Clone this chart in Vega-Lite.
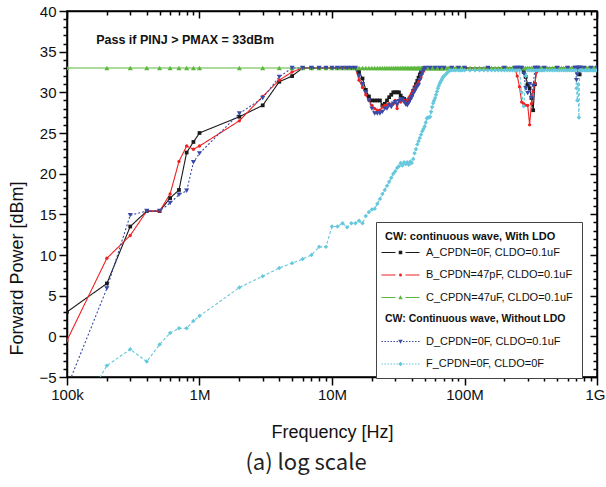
{
  "$schema": "https://vega.github.io/schema/vega-lite/v6.json",
  "width": 530,
  "height": 366,
  "autosize": {"type": "none"},
  "padding": {"left": 67, "top": 11, "right": 9, "bottom": 110},
  "background": "white",
  "config": {
    "view": {"stroke": "black", "strokeWidth": 1.5},
    "font": "Liberation Sans",
    "axis": {"labelFont": "Liberation Sans", "titleFont": "Liberation Sans"}
  },
  "title": {"text": "(a) log scale", "orient": "bottom", "anchor": "middle", "fontSize": 22, "fontWeight": "normal", "font": "Noto Sans CJK KR", "color": "#222222", "offset": 12, "dx": -26},
  "datasets": {
    "w": [
      {"f":100000,"A":3.0,"B":-0.5,"C":33,"D":-6.3,"F":-12},
      {"f":200000,"A":6.5,"B":9.6,"C":33,"D":5.9,"F":-3.6},
      {"f":300000,"A":13.5,"B":12.4,"C":33,"D":14.9,"F":-1.6},
      {"f":400000,"A":15.4,"B":15.4,"C":33,"D":15.4,"F":-3.1},
      {"f":500000,"A":15.4,"B":15.4,"C":33,"D":15.4,"F":-1.0},
      {"f":600000,"A":17.0,"B":17.5,"C":33,"D":16.4,"F":0.4},
      {"f":700000,"A":18.0,"B":21.5,"C":33,"D":17.4,"F":1.0},
      {"f":800000,"A":22.6,"B":23.4,"C":33,"D":17.9,"F":1.0},
      {"f":900000,"A":23.9,"B":23.0,"C":33,"D":21.4,"F":1.9},
      {"f":1000000,"A":25.0,"B":23.4,"C":33,"D":22.5,"F":2.5},
      {"f":2000000,"A":27.0,"B":26.5,"C":33,"D":27.4,"F":6.0},
      {"f":3000000,"A":28.4,"B":29.5,"C":33,"D":29.3,"F":7.4},
      {"f":4000000,"A":31.3,"B":31.5,"C":33,"D":31.9,"F":8.4},
      {"f":5000000,"A":32.0,"B":32.5,"C":33,"D":33,"F":9.0},
      {"f":6000000,"A":33,"B":33,"C":33,"D":33,"F":9.5},
      {"f":7000000,"A":33,"B":33,"C":33,"D":33,"F":10.0},
      {"f":8000000,"A":33,"B":33,"C":33,"D":33,"F":11.0},
      {"f":9000000,"A":33,"B":33,"C":33,"D":33,"F":11.0},
      {"f":10000000,"A":33,"B":33,"C":33,"D":33,"F":13.5},
      {"f":11000000,"A":33,"B":33,"C":33,"D":33,"F":13.5},
      {"f":12000000,"A":33,"B":33,"C":33,"D":33,"F":13.9},
      {"f":13000000,"A":33,"B":33,"C":33,"D":33,"F":13.4},
      {"f":14000000,"A":33,"B":33,"C":33,"D":33,"F":13.9},
      {"f":15000000,"A":33,"B":33,"C":33,"D":33,"F":13.9},
      {"f":16000000,"A":32.5,"B":31.5,"C":33,"D":32.0,"F":14.2},
      {"f":17000000,"A":31.7,"B":30.6,"C":33,"D":31.0,"F":13.9},
      {"f":18000000,"A":30.3,"B":29.7,"C":33,"D":30.0,"F":14.8},
      {"f":19000000,"A":29.5,"B":29.0,"C":33,"D":29.0,"F":15.3},
      {"f":20000000,"A":29.0,"B":28.4,"C":33,"D":28.0,"F":15.6},
      {"f":21000000,"A":29.0,"B":28.0,"C":33,"D":27.4,"F":15.7},
      {"f":22000000,"A":29.0,"B":27.8,"C":33,"D":27.4,"F":16.3},
      {"f":23000000,"A":29.0,"B":27.8,"C":33,"D":27.4,"F":16.9},
      {"f":24000000,"A":28.4,"B":28.2,"C":33,"D":27.6,"F":17.5},
      {"f":25000000,"A":28.6,"B":28.4,"C":33,"D":28.0,"F":18.0},
      {"f":26000000,"A":29.0,"B":28.4,"C":33,"D":28.0,"F":18.5},
      {"f":27000000,"A":29.4,"B":28.6,"C":33,"D":28.4,"F":19.0},
      {"f":28000000,"A":29.7,"B":28.5,"C":33,"D":28.2,"F":19.5},
      {"f":29000000,"A":30.0,"B":28.6,"C":33,"D":28.6,"F":20.0},
      {"f":30000000,"A":30.0,"B":29.0,"C":33,"D":28.8,"F":20.3},
      {"f":31000000,"A":30.0,"B":28.0,"C":33,"D":28.5,"F":20.7},
      {"f":32000000,"A":30.0,"B":29.0,"C":33,"D":28.9,"F":20.9},
      {"f":33000000,"A":29.6,"B":28.8,"C":33,"D":29.1,"F":21.3},
      {"f":34000000,"A":29.3,"B":29.0,"C":33,"D":29.1,"F":21.0},
      {"f":35000000,"A":29.2,"B":29.0,"C":33,"D":28.8,"F":21.4},
      {"f":36000000,"A":29.0,"B":28.7,"C":33,"D":28.5,"F":21.2},
      {"f":37000000,"A":28.8,"B":29.0,"C":33,"D":28.4,"F":21.4},
      {"f":38000000,"A":29.0,"B":29.3,"C":33,"D":28.7,"F":21.1},
      {"f":39000000,"A":29.3,"B":29.6,"C":33,"D":29.1,"F":21.5},
      {"f":40000000,"A":29.7,"B":29.9,"C":33,"D":29.4,"F":21.3},
      {"f":41000000,"A":30.2,"B":30.2,"C":33,"D":29.8,"F":21.8},
      {"f":42000000,"A":30.6,"B":30.5,"C":33,"D":30.1,"F":22.5},
      {"f":43000000,"A":31.0,"B":30.8,"C":33,"D":30.4,"F":23.0},
      {"f":44000000,"A":31.4,"B":31.0,"C":33,"D":30.7,"F":23.6},
      {"f":45000000,"A":31.8,"B":31.3,"C":33,"D":30.9,"F":24.0},
      {"f":46000000,"A":32.2,"B":31.6,"C":33,"D":31.5,"F":24.4},
      {"f":47000000,"A":32.5,"B":31.9,"C":33,"D":32.0,"F":24.8},
      {"f":48000000,"A":32.8,"B":32.3,"C":33,"D":32.4,"F":25.2},
      {"f":49000000,"A":33,"B":32.6,"C":33,"D":32.7,"F":25.5},
      {"f":50000000,"A":33,"B":32.9,"C":33,"D":32.9,"F":25.8},
      {"f":51000000,"A":33,"B":33,"C":33,"D":33,"F":26.3},
      {"f":52000000,"C":33,"F":26.8},
      {"f":53000000,"C":33,"F":26.9},
      {"f":54000000,"C":33,"F":26.9},
      {"f":55000000,"A":33,"B":33,"C":33,"D":33,"F":27.0},
      {"f":56000000,"C":33,"F":27.6},
      {"f":57000000,"C":33,"F":28.2},
      {"f":58000000,"C":33,"F":28.7},
      {"f":59000000,"C":33,"F":29.0},
      {"f":60000000,"A":33,"B":33,"C":33,"D":33,"F":29.3},
      {"f":61000000,"C":33,"F":29.7},
      {"f":62000000,"C":33,"F":30.1},
      {"f":63000000,"C":33,"F":30.5},
      {"f":64000000,"C":33,"F":30.8},
      {"f":65000000,"A":33,"B":33,"C":33,"D":33,"F":31.1},
      {"f":66000000,"C":33,"F":31.3},
      {"f":67000000,"C":33,"F":31.5},
      {"f":68000000,"C":33,"F":31.7},
      {"f":69000000,"C":33,"F":31.9},
      {"f":70000000,"A":33,"B":33,"C":33,"D":33,"F":32.0},
      {"f":72000000,"C":33,"F":32.2},
      {"f":74000000,"C":33,"F":32.4},
      {"f":76000000,"C":33,"F":32.6},
      {"f":78000000,"C":33,"F":32.7},
      {"f":80000000,"A":33,"B":33,"C":33,"D":33,"F":32.7},
      {"f":83000000,"C":33,"F":32.7},
      {"f":86000000,"C":33,"F":32.7},
      {"f":90000000,"A":33,"B":33,"C":33,"D":33,"F":32.7},
      {"f":93000000,"C":33,"F":32.7},
      {"f":96000000,"C":33,"F":32.7},
      {"f":100000000,"A":33,"B":33,"C":33,"D":33,"F":32.7},
      {"f":110000000,"C":33,"F":32.7},
      {"f":120000000,"C":33,"F":32.7},
      {"f":130000000,"C":33,"F":32.7},
      {"f":140000000,"C":33,"F":32.7},
      {"f":150000000,"A":33,"B":33,"C":33,"D":33,"F":32.7},
      {"f":160000000,"C":33,"F":32.7},
      {"f":170000000,"C":33,"F":32.7},
      {"f":180000000,"C":33,"F":32.7},
      {"f":190000000,"C":33,"F":32.7},
      {"f":200000000,"A":33,"B":33,"C":33,"D":33,"F":32.7},
      {"f":210000000,"C":33,"F":32.7},
      {"f":220000000,"C":33,"F":32.7},
      {"f":230000000,"C":33,"F":32.7},
      {"f":240000000,"A":33,"B":33,"C":33,"D":33,"F":32.7},
      {"f":250000000,"A":33,"B":32.0,"C":33,"D":33,"F":32.7},
      {"f":260000000,"A":33,"B":30.7,"C":33,"D":33,"F":32.7},
      {"f":270000000,"A":33,"B":28.8,"C":33,"D":33,"F":30.0},
      {"f":280000000,"A":32.5,"B":28.6,"C":33,"D":32.3,"F":28.3},
      {"f":290000000,"A":31.9,"B":28.4,"C":33,"D":30.5,"F":32.0},
      {"f":300000000,"A":31.0,"B":28.4,"C":33,"D":29.9,"F":32.7},
      {"f":310000000,"A":30.5,"B":26.0,"C":33,"D":31.0,"F":32.7},
      {"f":320000000,"A":29.3,"B":28.6,"C":33,"D":29.3,"F":32.7},
      {"f":330000000,"A":27.8,"B":30.1,"C":33,"D":30.8,"F":32.7},
      {"f":340000000,"A":31.0,"B":31.1,"C":33,"D":33,"F":32.7},
      {"f":350000000,"A":33,"B":32.5,"C":33,"D":33,"F":32.7},
      {"f":360000000,"A":33,"B":33,"C":33,"D":33,"F":32.7},
      {"f":370000000,"C":33,"F":32.7},
      {"f":380000000,"C":33,"F":32.7},
      {"f":390000000,"C":33,"F":32.7},
      {"f":400000000,"A":33,"B":33,"C":33,"D":33,"F":32.7},
      {"f":420000000,"C":33,"F":32.7},
      {"f":440000000,"C":33,"F":32.7},
      {"f":460000000,"C":33,"F":32.7},
      {"f":480000000,"C":33,"F":32.7},
      {"f":500000000,"A":33,"B":33,"C":33,"D":33,"F":32.7},
      {"f":520000000,"C":33,"F":32.7},
      {"f":540000000,"C":33,"F":32.7},
      {"f":560000000,"C":33,"F":32.7},
      {"f":580000000,"C":33,"F":32.7},
      {"f":600000000,"A":33,"B":33,"C":33,"D":33,"F":32.7},
      {"f":620000000,"C":33,"F":32.7},
      {"f":640000000,"C":33,"F":32.7},
      {"f":660000000,"C":33,"F":32.7},
      {"f":680000000,"A":33,"B":33,"C":33,"D":33,"F":32.7},
      {"f":690000000,"A":33,"B":33,"C":33,"D":33,"F":32.7},
      {"f":700000000,"A":33,"B":33,"C":33,"D":31.5,"F":30.5},
      {"f":710000000,"A":33,"B":33,"C":33,"D":32.2,"F":29.0},
      {"f":720000000,"A":33,"B":33,"C":33,"D":33,"F":31.0},
      {"f":730000000,"A":33,"B":33,"C":33,"D":33,"F":26.9},
      {"f":740000000,"A":32.2,"B":33,"C":33,"D":33,"F":32.7},
      {"f":750000000,"A":33,"B":33,"C":33,"D":33,"F":32.7},
      {"f":760000000,"C":33,"F":32.7},
      {"f":780000000,"C":33,"F":32.7},
      {"f":800000000,"A":33,"B":33,"C":33,"D":33,"F":32.7},
      {"f":820000000,"C":33,"F":32.7},
      {"f":840000000,"C":33,"F":32.7},
      {"f":860000000,"C":33,"F":32.7},
      {"f":880000000,"C":33,"F":32.7},
      {"f":900000000,"A":33,"B":33,"C":33,"D":33,"F":32.7},
      {"f":920000000,"C":33,"F":32.7},
      {"f":940000000,"C":33,"F":32.7},
      {"f":960000000,"C":33,"F":32.7},
      {"f":980000000,"C":33,"F":32.7},
      {"f":1000000000,"A":33,"B":33,"C":33,"D":33,"F":32.7}
    ]
  },
  "layer": [
    {
      "data": {"name": "w"},
      "transform": [{"fold": ["A", "B", "C", "D", "F"], "as": ["s", "p"]}, {"filter": "datum.p != null"}],
      "mark": {"type": "line", "strokeWidth": 1.1, "clip": true},
      "encoding": {
        "x": {
          "field": "f", "type": "quantitative",
          "scale": {"type": "log", "domain": [100000, 1000000000], "nice": false},
          "axis": {
            "orient": "bottom",
            "values": [100000,200000,300000,400000,500000,600000,700000,800000,900000,1000000,2000000,3000000,4000000,5000000,6000000,7000000,8000000,9000000,10000000,20000000,30000000,40000000,50000000,60000000,70000000,80000000,90000000,100000000,200000000,300000000,400000000,500000000,600000000,700000000,800000000,900000000,1000000000],
            "labelExpr": "datum.value == 100000 ? '100k' : datum.value == 1000000 ? '1M' : datum.value == 10000000 ? '10M' : datum.value == 100000000 ? '100M' : datum.value == 1000000000 ? '1G' : ''",
            "labelFontSize": 15, "labelColor": "#111111", "labelPadding": 2, "labelFlush": false, "labelOverlap": false,
            "labelAlign": {"condition": {"test": "datum.value == 1000000000", "value": "right"}, "value": "center"},
            "labelOffset": {"condition": {"test": "datum.value == 1000000000", "value": 8}, "value": 0},
            "tickColor": "black", "tickWidth": 1.5,
            "tickSize": {"condition": {"test": "indexof([100000,1000000,10000000,100000000,1000000000], datum.value) >= 0", "value": 8}, "value": 4},
            "domainColor": "black", "domainWidth": 1.5, "grid": false,
            "title": "Frequency [Hz]", "titleFontSize": 18, "titleFontWeight": "normal", "titleColor": "#111111",
            "titleY": 55, "titleBaseline": "middle"
          }
        },
        "y": {
          "field": "p", "type": "quantitative",
          "scale": {"domain": [-5, 40], "nice": false, "zero": false},
          "axis": {
            "orient": "left",
            "values": [-5,-4,-3,-2,-1,0,1,2,3,4,5,6,7,8,9,10,11,12,13,14,15,16,17,18,19,20,21,22,23,24,25,26,27,28,29,30,31,32,33,34,35,36,37,38,39,40],
            "labelExpr": "datum.value % 5 === 0 ? datum.label : ''",
            "labelFontSize": 15, "labelColor": "#111111", "labelPadding": 3, "labelOverlap": false,
            "tickColor": "black", "tickWidth": 1.5,
            "tickSize": {"condition": {"test": "datum.value % 5 === 0", "value": 8}, "value": 4},
            "domainColor": "black", "domainWidth": 1.5, "grid": false,
            "title": "Forward Power [dBm]", "titleFontSize": 18, "titleFontWeight": "normal", "titleColor": "#111111",
            "titleX": -50, "titleY": 257, "titleBaseline": "middle"
          }
        },
        "color": {
          "field": "s", "type": "nominal",
          "scale": {"domain": ["A", "B", "C", "H", "D", "F"], "range": ["#1a1a1a", "#ee2222", "#5cb83c", "#ffffff", "#3a4aa8", "#66c8dc"]},
          "legend": {
            "title": "CW: continuous wave, With LDO",
            "orient": "none", "legendX": 309, "legendY": 211,
            "padding": 9, "strokeColor": "#444444", "fillColor": "white", "cornerRadius": 0,
            "titleFontSize": 11, "titleFontWeight": "bold", "titleColor": "#111111", "titlePadding": 5,
            "labelFontSize": 10, "labelColor": "#111111", "labelLimit": 300,
            "symbolSize": 100, "symbolStrokeWidth": 0, "symbolOffset": 10, "labelOffset": 20, "rowPadding": 10.5,
            "labelExpr": "datum.value == 'A' ? 'A_CPDN=0F, CLDO=0.1uF' : datum.value == 'B' ? 'B_CPDN=47pF, CLDO=0.1uF' : datum.value == 'C' ? 'C_CPDN=47uF, CLDO=0.1uF' : datum.value == 'H' ? 'CW: Continuous wave, Without LDO' : datum.value == 'D' ? 'D_CPDN=0F, CLDO=0.1uF' : 'F_CPDN=0F, CLDO=0F'",
            "encode": {
              "symbols": {"update": {
                "shape": {"signal": "datum.value == 'A' ? 'M-3.8,-0.11H-1V0.11H-3.8ZM1,-0.11H3.8V0.11H1ZM-0.35,-0.35H0.35V0.35H-0.35Z' : datum.value == 'B' ? 'M-3.8,-0.11H-1V0.11H-3.8ZM1,-0.11H3.8V0.11H1ZM-0.3,0A0.3,0.3 0 1,0 0.3,0A0.3,0.3 0 1,0 -0.3,0Z' : datum.value == 'C' ? 'M-3.8,-0.11H-1V0.11H-3.8ZM1,-0.11H3.8V0.11H1ZM0,-0.45L0.45,0.35H-0.45Z' : datum.value == 'D' ? 'M-3.8,-0.11h0.3v0.22h-0.3ZM-3.2,-0.11h0.3v0.22h-0.3ZM-2.6,-0.11h0.3v0.22h-0.3ZM-2,-0.11h0.3v0.22h-0.3ZM-1.4,-0.11h0.3v0.22h-0.3ZM-0.8,-0.11h0.3v0.22h-0.3ZM0.5,-0.11h0.3v0.22h-0.3ZM1.1,-0.11h0.3v0.22h-0.3ZM1.7,-0.11h0.3v0.22h-0.3ZM2.3,-0.11h0.3v0.22h-0.3ZM2.9,-0.11h0.3v0.22h-0.3ZM3.5,-0.11h0.3v0.22h-0.3ZM-0.45,-0.35H0.45L0,0.45Z' : datum.value == 'F' ? 'M-3.8,-0.11h0.3v0.22h-0.3ZM-3.2,-0.11h0.3v0.22h-0.3ZM-2.6,-0.11h0.3v0.22h-0.3ZM-2,-0.11h0.3v0.22h-0.3ZM-1.4,-0.11h0.3v0.22h-0.3ZM-0.8,-0.11h0.3v0.22h-0.3ZM0.5,-0.11h0.3v0.22h-0.3ZM1.1,-0.11h0.3v0.22h-0.3ZM1.7,-0.11h0.3v0.22h-0.3ZM2.3,-0.11h0.3v0.22h-0.3ZM2.9,-0.11h0.3v0.22h-0.3ZM3.5,-0.11h0.3v0.22h-0.3ZM0,-0.45L0.45,0L0,0.45L-0.45,0Z' : 'M0,0'"},
                "fill": {"signal": "scale('color', datum.value)"},
                "stroke": {"value": "transparent"},
                "strokeWidth": {"value": 0},
                "fillOpacity": {"value": 1},
                "opacity": {"signal": "datum.value == 'H' ? 0 : 1"}
              }},
              "labels": {"update": {
                "fontWeight": {"signal": "datum.value == 'H' ? 'bold' : 'normal'"},
                "fontSize": {"signal": "datum.value == 'H' ? 10.5 : 11"},
                "dx": {"signal": "datum.value == 'H' ? -41 : 0"}
              }}
            }
          }
        },
        "strokeDash": {
          "field": "s", "type": "nominal",
          "scale": {"domain": ["A", "B", "C", "H", "D", "F"], "range": [[1, 0], [1, 0], [1, 0], [1, 0], [2, 2], [3, 2]]}
        }
      }
    },
    {
      "data": {"name": "w"},
      "transform": [{"fold": ["A", "B", "C", "D", "F"], "as": ["s", "p"]}, {"filter": "datum.p != null"}],
      "layer": [
        {
          "transform": [{"filter": "datum.s == 'A'"}],
          "mark": {"type": "point", "shape": "square", "size": 14, "filled": true, "clip": true, "opacity": 1},
          "encoding": {
            "x": {"field": "f", "type": "quantitative", "axis": null},
            "y": {"field": "p", "type": "quantitative", "axis": null},
            "color": {"field": "s", "type": "nominal", "legend": null}
          }
        },
        {
          "transform": [{"filter": "datum.s == 'B'"}],
          "mark": {"type": "point", "shape": "circle", "size": 11, "filled": true, "clip": true, "opacity": 1},
          "encoding": {
            "x": {"field": "f", "type": "quantitative", "axis": null},
            "y": {"field": "p", "type": "quantitative", "axis": null},
            "color": {"field": "s", "type": "nominal", "legend": null}
          }
        },
        {
          "transform": [{"filter": "datum.s == 'C'"}],
          "mark": {"type": "point", "shape": "triangle-up", "size": 26, "filled": true, "clip": true, "opacity": 1},
          "encoding": {
            "x": {"field": "f", "type": "quantitative", "axis": null},
            "y": {"field": "p", "type": "quantitative", "axis": null},
            "color": {"field": "s", "type": "nominal", "legend": null}
          }
        },
        {
          "transform": [{"filter": "datum.s == 'D'"}],
          "mark": {"type": "point", "shape": "triangle-down", "size": 26, "filled": true, "clip": true, "opacity": 1},
          "encoding": {
            "x": {"field": "f", "type": "quantitative", "axis": null},
            "y": {"field": "p", "type": "quantitative", "axis": null},
            "color": {"field": "s", "type": "nominal", "legend": null}
          }
        },
        {
          "transform": [{"filter": "datum.s == 'F'"}],
          "mark": {"type": "point", "shape": "diamond", "size": 20, "filled": true, "clip": true, "opacity": 1},
          "encoding": {
            "x": {"field": "f", "type": "quantitative", "axis": null},
            "y": {"field": "p", "type": "quantitative", "axis": null},
            "color": {"field": "s", "type": "nominal", "legend": null}
          }
        }
      ]
    },
    {
      "data": {"values": [{}]},
      "mark": {"type": "text", "text": "Pass if PINJ > PMAX = 33dBm", "align": "left", "baseline": "middle", "fontSize": 12.5, "fontWeight": "bold", "font": "Liberation Sans", "color": "#111111"},
      "encoding": {
        "x": {
          "datum": 166000, "type": "quantitative",
          "axis": {
            "orient": "top",
            "values": [100000,200000,300000,400000,500000,600000,700000,800000,900000,1000000,2000000,3000000,4000000,5000000,6000000,7000000,8000000,9000000,10000000,20000000,30000000,40000000,50000000,60000000,70000000,80000000,90000000,100000000,200000000,300000000,400000000,500000000,600000000,700000000,800000000,900000000,1000000000],
            "labels": false, "title": null, "grid": false,
            "tickColor": "black", "tickWidth": 1.5,
            "tickSize": {"condition": {"test": "indexof([100000,1000000,10000000,100000000,1000000000], datum.value) >= 0", "value": -7}, "value": -4},
            "domainColor": "black", "domainWidth": 1.5
          }
        },
        "y": {
          "datum": 36.4, "type": "quantitative",
          "axis": {
            "orient": "right",
            "values": [-5,-4,-3,-2,-1,0,1,2,3,4,5,6,7,8,9,10,11,12,13,14,15,16,17,18,19,20,21,22,23,24,25,26,27,28,29,30,31,32,33,34,35,36,37,38,39,40],
            "labels": false, "title": null, "grid": false,
            "tickColor": "black", "tickWidth": 1.5,
            "tickSize": {"condition": {"test": "datum.value % 5 === 0", "value": -7}, "value": -4},
            "domainColor": "black", "domainWidth": 1.5
          }
        }
      }
    }
  ],
  "resolve": {"axis": {"x": "independent", "y": "independent"}}
}
